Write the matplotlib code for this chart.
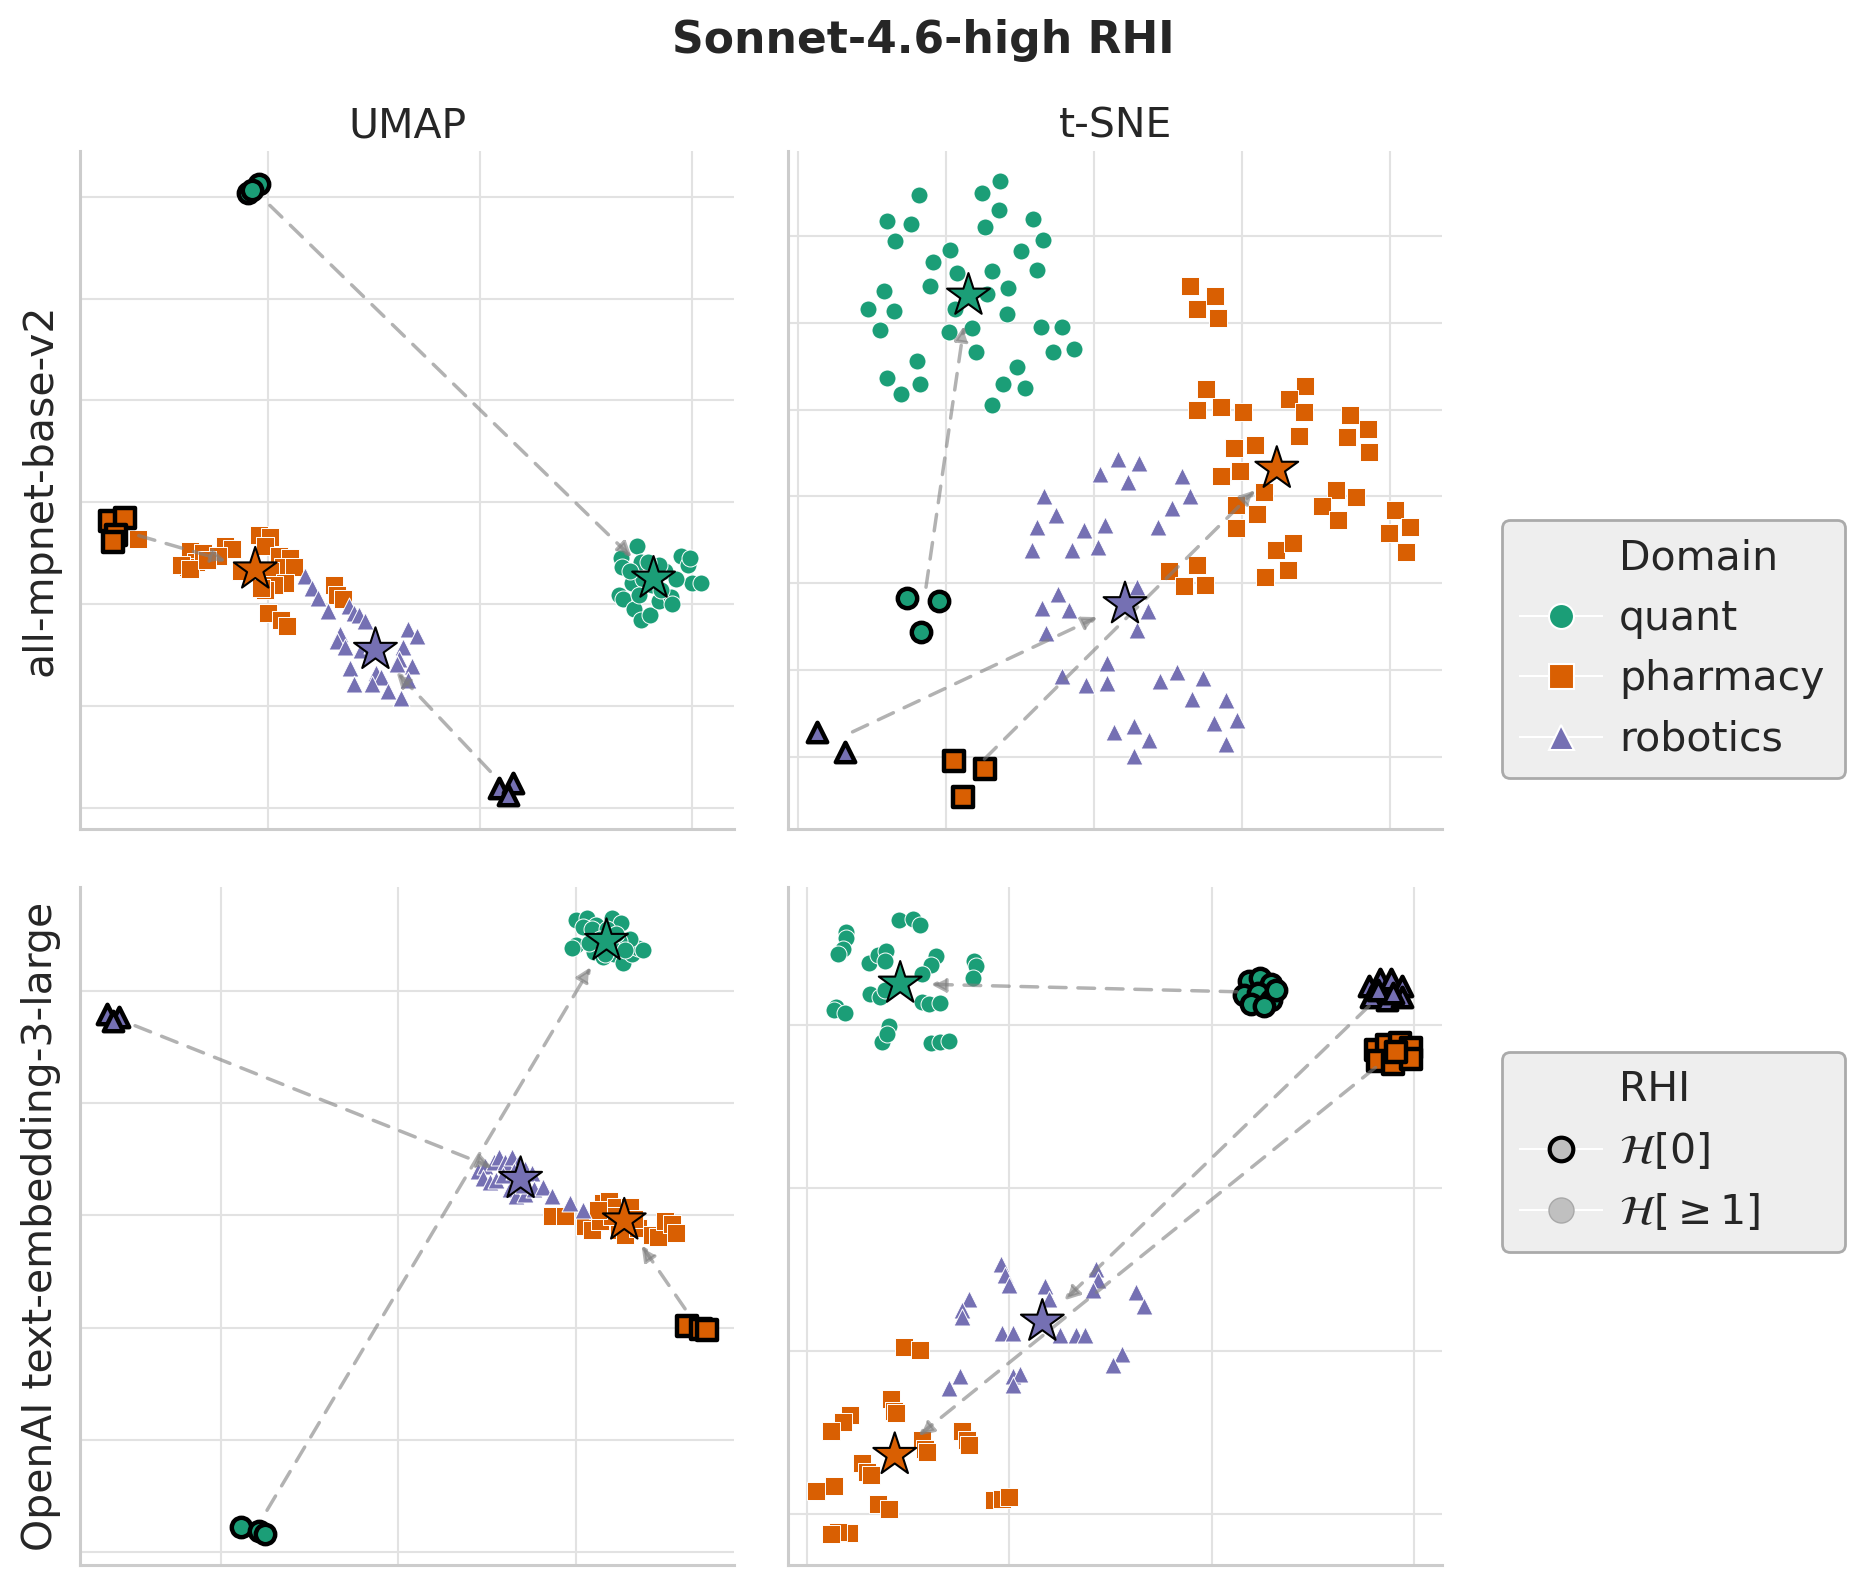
import numpy as np
import matplotlib
matplotlib.use("Agg")
import matplotlib.pyplot as plt
from matplotlib.lines import Line2D
from matplotlib.ticker import MultipleLocator

# domains, colours and markers
domains = ["quant", "pharmacy", "robotics"]
colors = ["#1b9e77", "#d95f02", "#7570b3"]
markers = ["o", "s", "^"]

# ---------------- UMAP, all-mpnet-base-v2 ----------------
um_mp_quant = [(13.70, 7.13), (13.80, 6.82), (13.33, 6.91), (13.35, 6.73), (13.59, 6.41), (13.28, 6.18),
               (13.38, 6.09), (13.64, 5.91), (13.80, 5.69), (14.01, 5.78), (14.22, 6.05), (14.51, 6.14),
               (14.54, 6.00), (14.38, 6.64), (14.22, 6.77), (13.86, 6.50), (14.75, 6.95), (14.91, 6.77),
               (14.96, 6.91), (15.01, 6.41), (15.22, 6.41), (14.07, 6.37), (14.28, 6.27), (13.54, 6.64),
               (13.96, 6.82), (14.64, 6.50), (13.75, 6.18)]
um_mp_pharm = [(1.93, 7.27), (3.14, 7.04), (3.30, 6.82), (3.09, 6.73), (3.46, 7.00), (3.98, 7.13),
               (4.14, 7.09), (3.82, 6.95), (4.77, 7.36), (5.03, 7.31), (4.93, 7.13), (5.24, 6.95),
               (5.50, 6.91), (5.35, 6.73), (5.61, 6.73), (4.35, 6.64), (5.03, 6.64), (5.40, 6.41),
               (5.14, 6.37), (4.93, 6.27), (4.82, 6.32), (6.55, 6.37), (6.61, 6.18), (6.76, 6.09),
               (4.98, 5.82), (5.29, 5.69), (5.45, 5.57), (2.93, 6.77), (3.14, 6.68), (3.56, 6.86)]
um_mp_robo = [(5.87, 6.55), (6.03, 6.32), (6.17, 6.11), (6.42, 5.87), (6.90, 5.96), (7.03, 5.82),
              (7.15, 5.78), (7.29, 5.66), (6.69, 5.42), (6.61, 5.28), (6.82, 5.15), (7.18, 5.10),
              (7.45, 5.19), (8.29, 5.51), (8.50, 5.37), (8.18, 5.15), (8.08, 4.92), (8.39, 4.78),
              (6.92, 4.74), (7.55, 4.65), (7.66, 4.56), (7.03, 4.42), (7.45, 4.42), (7.82, 4.29),
              (8.13, 4.15), (8.29, 4.51), (8.03, 4.83)]
um_mp_quant_h0 = [(4.51, 14.07), (4.79, 14.26), (4.61, 14.13)]
um_mp_pharm_h0 = [(1.25, 7.63), (1.62, 7.68), (1.41, 7.36), (1.33, 7.22)]
um_mp_robo_h0 = [(10.44, 2.39), (10.79, 2.48), (10.65, 2.25)]
um_mp_centroids = [(14.10, 6.50), (4.69, 6.68), (7.53, 5.10)]

# ---------------- t-SNE, all-mpnet-base-v2 ----------------
ts_mp_quant = [(-5.91, 17.34), (-3.19, 18.19), (-3.79, 17.47), (-3.20, 16.49), (-3.68, 15.53), (-6.99, 15.88),
               (-6.17, 15.72), (-6.71, 14.71), (-2.06, 15.96), (-1.71, 14.76), (-2.45, 14.15), (-1.94, 13.06),
               (-4.87, 14.18), (-5.43, 13.48), (-4.62, 12.87), (-3.46, 12.98), (-5.55, 12.15), (-7.10, 11.81),
               (-7.65, 10.82), (-6.74, 10.66), (-7.22, 9.57), (-3.62, 11.65), (-2.89, 11.99), (-4.68, 10.80),
               (-2.95, 10.51), (-4.89, 9.49), (-4.12, 9.71), (-4.00, 8.32), (-1.80, 9.76), (-1.08, 9.76),
               (-1.37, 8.32), (-0.68, 8.48), (-5.97, 7.79), (-6.98, 6.84), (-5.88, 6.49), (-6.53, 5.88),
               (-2.60, 7.47), (-3.08, 6.46), (-2.32, 6.22), (-3.43, 5.27)]
ts_mp_pharm = [(3.26, 12.15), (4.08, 11.57), (3.50, 10.77), (4.18, 10.29), (3.80, 6.17), (3.50, 5.00),
               (4.30, 5.13), (5.05, 4.89), (7.14, 6.38), (6.59, 5.59), (7.11, 4.84), (6.92, 3.51),
               (8.66, 4.68), (9.26, 3.91), (8.56, 3.40), (9.29, 2.58), (4.72, 2.82), (5.46, 2.95),
               (4.29, 1.17), (4.93, 1.49), (5.76, 0.27), (4.81, -0.48), (5.50, -1.01), (4.81, -1.84),
               (8.18, 0.37), (8.84, -0.05), (7.70, -0.56), (8.26, -1.33), (10.18, -0.77), (10.69, -1.73),
               (9.97, -2.10), (10.56, -3.19), (6.14, -3.09), (6.74, -2.66), (5.79, -4.65), (6.57, -4.23),
               (2.53, -4.31), (3.47, -3.94), (3.04, -5.16), (3.77, -5.11)]
ts_mp_robo = [(0.80, 2.13), (1.52, 1.94), (0.21, 1.28), (1.16, 0.85), (2.96, 1.20), (3.25, 0.00),
              (-1.68, 0.00), (-1.28, -1.06), (-1.92, -1.73), (-2.09, -3.06), (-0.33, -1.91), (0.36, -1.65),
              (-0.74, -3.11), (0.15, -2.93), (2.65, -0.69), (2.18, -1.76), (1.47, -5.19), (1.82, -6.57),
              (1.47, -7.71), (-1.23, -5.59), (-1.76, -6.44), (-0.83, -6.52), (-1.61, -7.85), (0.45, -9.57),
              (-1.07, -10.32), (-0.26, -10.85), (0.45, -10.77), (2.23, -10.64), (2.80, -10.11), (3.70, -10.43),
              (3.31, -11.65), (4.45, -11.70), (4.05, -13.03), (4.84, -12.85), (4.47, -14.23), (0.69, -13.56),
              (1.37, -13.22), (1.86, -14.04), (1.34, -14.95)]
ts_mp_quant_h0 = [(-6.32, -5.85), (-5.22, -6.04), (-5.83, -7.82)]
ts_mp_pharm_h0 = [(-4.72, -15.24), (-3.67, -15.69), (-4.41, -17.31)]
ts_mp_robo_h0 = [(-9.35, -13.56), (-8.41, -14.71)]
ts_mp_centroids = [(-4.24, 11.57), (6.18, 1.60), (1.05, -6.20)]

# ---------------- UMAP, OpenAI text-embedding-3-large ----------------
um_oa_quant = [(10.01, 13.26), (10.32, 13.30), (10.57, 13.18), (11.01, 13.30), (11.26, 13.20), (10.19, 13.14),
               (10.44, 13.10), (10.88, 13.10), (10.01, 12.81), (9.88, 12.77), (10.51, 12.69), (10.76, 12.61),
               (11.07, 12.65), (11.32, 12.49), (11.57, 12.65), (11.76, 12.77), (11.88, 12.73), (11.51, 12.93),
               (11.20, 12.89), (10.69, 12.93), (10.38, 12.85), (11.01, 12.77), (11.38, 12.73), (11.13, 13.02),
               (10.82, 12.65)]
um_oa_pharm = [(9.32, 7.98), (9.69, 7.98), (10.76, 8.22), (10.94, 8.26), (11.13, 8.14), (11.51, 8.14),
               (10.26, 7.81), (10.44, 7.73), (10.69, 7.89), (11.20, 7.73), (11.38, 7.65), (11.76, 7.77),
               (12.13, 7.65), (12.32, 7.61), (12.51, 7.89), (12.70, 7.85), (12.82, 7.69), (11.01, 7.98),
               (11.63, 7.93), (10.63, 8.10)]
um_oa_robo = [(7.25, 8.79), (7.44, 8.87), (7.69, 8.95), (7.82, 9.03), (8.00, 8.95), (8.19, 9.03),
              (8.38, 8.91), (8.57, 8.83), (8.75, 8.75), (7.38, 8.67), (7.57, 8.59), (7.75, 8.63),
              (8.13, 8.46), (8.32, 8.34), (8.57, 8.38), (8.82, 8.46), (9.07, 8.50), (9.32, 8.34),
              (9.82, 8.22), (10.19, 8.10), (7.94, 8.71), (8.50, 8.54), (8.25, 8.79)]
um_oa_quant_h0 = [(0.56, 2.45), (1.06, 2.37), (1.25, 2.33)]
um_oa_pharm_h0 = [(13.14, 6.02), (13.51, 5.98), (13.70, 5.96)]
um_oa_robo_h0 = [(-3.20, 11.59), (-2.88, 11.54), (-3.03, 11.47)]
um_oa_centroids = [(10.86, 12.89), (11.36, 7.91), (8.44, 8.65)]

# ---------------- t-SNE, OpenAI text-embedding-3-large ----------------
ts_oa_quant = [(-8.09, 25.71), (-8.09, 25.37), (-8.24, 24.67), (-8.46, 24.39), (-5.44, 26.49), (-4.78, 26.55),
               (-4.40, 26.16), (-6.93, 23.83), (-6.49, 24.31), (-6.09, 24.59), (-6.16, 23.97), (-3.64, 24.25),
               (-3.86, 23.69), (-4.29, 23.18), (-1.77, 23.97), (-1.66, 23.63), (-1.81, 22.93), (-6.88, 21.95),
               (-6.38, 21.73), (-6.16, 22.15), (-4.29, 21.45), (-3.97, 21.31), (-3.42, 21.36), (-8.57, 21.11),
               (-8.68, 20.94), (-8.13, 20.75), (-5.94, 19.99), (-6.27, 18.98), (-6.05, 19.48), (-3.86, 18.92),
               (-3.42, 18.98), (-2.98, 19.06)]
ts_oa_pharm = [(-5.22, 0.28), (-4.40, 0.08), (-5.83, -2.94), (-5.72, -3.64), (-5.61, -3.78), (-7.85, -3.92),
               (-8.24, -4.35), (-8.79, -4.91), (-7.26, -6.87), (-7.04, -7.43), (-6.82, -7.57), (-4.29, -5.47),
               (-4.18, -6.03), (-4.08, -6.17), (-2.32, -4.91), (-2.10, -5.47), (-1.99, -5.75), (-8.68, -8.27),
               (-9.56, -8.55), (-6.49, -9.39), (-5.94, -9.67), (-0.78, -9.11), (-0.34, -9.06), (-0.02, -8.97),
               (-7.92, -11.13), (-8.46, -11.07), (-8.79, -11.21)]
ts_oa_robo = [(-0.39, 5.33), (-0.23, 4.68), (-0.02, 4.07), (-1.99, 3.22), (-2.32, 2.52), (-2.32, 2.10),
              (-0.34, 1.12), (0.20, 1.12), (1.74, 4.01), (1.96, 3.22), (4.26, 5.05), (4.37, 4.35),
              (4.15, 3.78), (6.24, 3.64), (6.63, 2.80), (2.51, 0.98), (3.28, 0.98), (3.72, 0.98),
              (5.58, -0.14), (5.14, -0.84), (-2.43, -1.54), (-2.98, -2.24), (0.20, -1.54), (0.53, -1.40),
              (0.20, -2.10)]
ts_oa_quant_h0 = [(11.83, 22.71), (12.38, 22.90), (12.93, 22.57), (11.61, 21.87), (12.27, 22.01),
                  (12.93, 21.59), (11.94, 21.31), (12.60, 21.17), (13.15, 22.15)]
ts_oa_pharm_h0 = [(18.09, 18.50), (18.64, 18.78), (19.30, 18.92), (19.84, 18.64), (18.20, 17.80),
                  (18.97, 17.66), (19.84, 17.94), (19.08, 18.36)]
ts_oa_robo_h0 = [(17.76, 22.43), (18.31, 22.85), (18.86, 22.85), (19.41, 22.43), (17.87, 21.73),
                 (18.64, 21.59), (19.41, 21.73), (18.20, 22.15), (18.97, 22.01)]
ts_oa_centroids = [(-5.39, 22.57), (-5.66, -6.36), (1.63, 1.82)]

col_titles = ["UMAP", "t-SNE"]
row_labels = ["all-mpnet-base-v2", "OpenAI text-embedding-3-large"]

panels = [
    dict(pts=[um_mp_quant, um_mp_pharm, um_mp_robo], h0=[um_mp_quant_h0, um_mp_pharm_h0, um_mp_robo_h0],
         cent=um_mp_centroids, xlim=(0.55, 16.0), ylim=(1.58, 14.9), xs=5, ys=2),
    dict(pts=[ts_mp_quant, ts_mp_pharm, ts_mp_robo], h0=[ts_mp_quant_h0, ts_mp_pharm_h0, ts_mp_robo_h0],
         cent=ts_mp_centroids, xlim=(-10.33, 11.77), ylim=(-19.15, 19.9), xs=5, ys=5),
    dict(pts=[um_oa_quant, um_oa_pharm, um_oa_robo], h0=[um_oa_quant_h0, um_oa_pharm_h0, um_oa_robo_h0],
         cent=um_oa_centroids, xlim=(-3.97, 14.45), ylim=(1.77, 13.85), xs=5, ys=2),
    dict(pts=[ts_oa_quant, ts_oa_pharm, ts_oa_robo], h0=[ts_oa_quant_h0, ts_oa_pharm_h0, ts_oa_robo_h0],
         cent=ts_oa_centroids, xlim=(-10.92, 21.38), ylim=(-13.12, 28.5), xs=10, ys=10),
]

FS = 29.5
plt.rcParams["font.family"] = "DejaVu Sans"
plt.rcParams["text.color"] = "#262626"
plt.rcParams["axes.labelcolor"] = "#262626"

fig, axes = plt.subplots(2, 2, figsize=(18.65, 15.84), dpi=100)
fig.subplots_adjust(left=0.0429, right=0.7733, top=0.9047, bottom=0.012, wspace=0.083, hspace=0.0855)
ax = axes.ravel()

for i, p in enumerate(panels):
    a = ax[i]
    for d in range(3):
        pts = np.array(p["pts"][d])
        a.scatter(pts[:, 0], pts[:, 1], s=150, marker=markers[d], c=colors[d],
                  edgecolors="white", linewidths=0.7, zorder=2)
    for d in range(3):
        h0 = np.array(p["h0"][d])
        a.scatter(h0[:, 0], h0[:, 1], s=195, marker=markers[d], c=colors[d],
                  edgecolors="black", linewidths=3.2, zorder=3)
    for d in range(3):
        h0 = np.array(p["h0"][d])
        start = h0.mean(axis=0)
        a.annotate("", xy=p["cent"][d], xytext=start,
                   arrowprops=dict(arrowstyle="-|>", color="gray", alpha=0.6, lw=2.5,
                                   linestyle=(0, (4.8, 3.4)), shrinkA=17, shrinkB=22,
                                   mutation_scale=22),
                   zorder=4)
    cent = np.array(p["cent"])
    a.scatter(cent[:, 0], cent[:, 1], s=1050, marker="*", c=colors,
              edgecolors="black", linewidths=1.5, zorder=5)

    a.set_xlim(p["xlim"])
    a.set_ylim(p["ylim"])
    a.xaxis.set_major_locator(MultipleLocator(p["xs"]))
    a.yaxis.set_major_locator(MultipleLocator(p["ys"]))
    a.tick_params(labelbottom=False, labelleft=False, length=0)
    a.grid(True, color="#e2e2e2", linewidth=1.5)
    a.set_axisbelow(True)
    for sp in ["top", "right"]:
        a.spines[sp].set_visible(False)
    for sp in ["left", "bottom"]:
        a.spines[sp].set_color("#cccccc")
        a.spines[sp].set_linewidth(2.2)

for j in range(2):
    ax[j].set_title(col_titles[j], fontsize=FS, pad=10)
    ax[2 * j].set_ylabel(row_labels[j], fontsize=FS, labelpad=14)

fig.text(0.495, 1 - 53 / 1584, "Sonnet-4.6-high RHI", ha="center", va="baseline",
         fontsize=31.7, fontweight="bold")

# legends
dom_handles = [Line2D([], [], color="none")]
dom_labels = ["Domain"]
for d in range(3):
    dom_handles.append(Line2D([0], [0], marker=markers[d], color="w", markerfacecolor=colors[d],
                              markeredgewidth=1.5, markersize=18))
    dom_labels.append(domains[d])

rhi_handles = [Line2D([], [], color="none"),
               Line2D([0], [0], marker="o", color="w", markerfacecolor="#c0c0c0",
                      markeredgecolor="black", markeredgewidth=3, markersize=17),
               Line2D([0], [0], marker="o", color="w", markerfacecolor="#c0c0c0",
                      markeredgecolor="#a8a8a8", markeredgewidth=1, markersize=18)]
rhi_labels = ["RHI", r"$\mathcal{H}[0]$", r"$\mathcal{H}[\geq 1]$"]

for hs, ls, top in [(dom_handles, dom_labels, 520), (rhi_handles, rhi_labels, 1052)]:
    leg = fig.legend(hs, ls, loc="upper left",
                     bbox_to_anchor=(1502 / 1865, 1 - top / 1584, 343 / 1865, 0.0),
                     mode="expand", borderaxespad=0, fontsize=FS, frameon=True,
                     facecolor="#eeeeee", edgecolor="#aaaaaa", framealpha=1,
                     labelspacing=0.5, handletextpad=0.4, borderpad=0.45, handlelength=2.0)
    leg.get_frame().set_linewidth(2)

fig.savefig("out.png", dpi=100)
